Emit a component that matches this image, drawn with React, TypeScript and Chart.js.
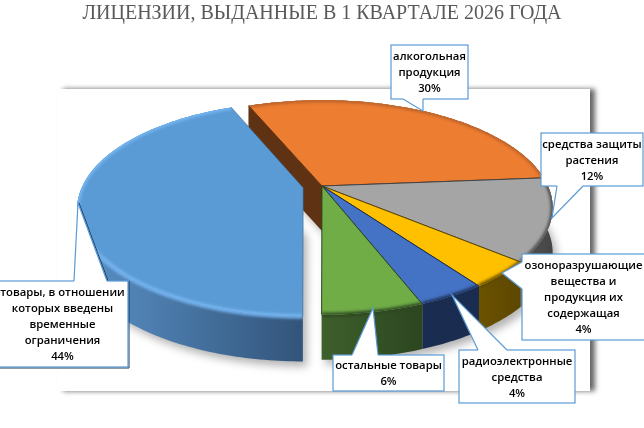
import React, { useEffect, useRef } from 'react';
import Chart from 'chart.js/auto';

const TITLE = 'ЛИЦЕНЗИИ, ВЫДАННЫЕ В 1 КВАРТАЛЕ 2026 ГОДА';

const categories = [
  'алкогольная продукция',
  'средства защиты растения',
  'озоноразрушающие вещества и продукция их содержащая',
  'радиоэлектронные средства',
  'остальные товары',
  'товары, в отношении которых введены временные ограничения',
];
const values = [30, 12.4, 4, 4, 5.9, 43.7];
const sliceOffsets = [0, 0, 0, 0, 0, 13];
const topColors = ['#ED7D31', '#A5A5A5', '#FFC000', '#4472C4', '#70AD47', '#5B9BD5'];
const sideLeft = ['#5F3213', '#5a5a5a', '#6b5200', '#1a2d50', '#3e602c', '#5a92c8'];
const sideRight = ['#5F3213', '#444444', '#5d4700', '#1a2d50', '#2c4620', '#32547a'];
const rimColors = ['#b8612a', '#4a4a4a', '#5d4700', '#1a2d50', '#2c4620', '#78b8f4'];

// wrapped label text, same order as categories
const labelLines = [
  ['алкогольная', 'продукция'],
  ['средства защиты', 'растения'],
  ['озоноразрушающие', 'вещества и', 'продукция их', 'содержащая'],
  ['радиоэлектронные', 'средства'],
  ['остальные товары'],
  ['товары, в отношении', 'которых введены', 'временные', 'ограничения'],
];
// callout boxes: x, y, w, h, then the wedge as base point, tip, base point
const callouts = [
  { box: [391, 45, 77, 54], wedge: [[403, 99], [423, 111], [423, 99]] },
  { box: [541, 133, 102, 53], wedge: [[557, 186], [552, 218], [583, 186]] },
  { box: [522, 254, 123, 86], wedge: [[522, 262], [502, 273], [522, 289]] },
  { box: [459, 350, 116, 53], wedge: [[478, 350], [452, 295], [507, 350]] },
  { box: [333, 355, 111, 36], wedge: [[352, 355], [373, 308], [378, 355]] },
  { box: [-3, 281, 131, 86], wedge: [[74, 281], [78, 203], [107, 281]], dark: true },
];

const RX = 226;
const RY = 103;
const PERSPECTIVE = 0.2;
const DEPTH = 45;

const pie3d = {
  id: 'pie3d',
  beforeDraw(chart: any) {
    const { ctx } = chart;
    ctx.save();
    ctx.fillStyle = '#ffffff';
    ctx.fillRect(0, 0, 644, 428);
    ctx.shadowColor = 'rgba(0,0,0,0.6)';
    ctx.shadowOffsetX = 5;
    ctx.shadowBlur = 5;
    ctx.fillRect(58, 89, 532, 302);
    ctx.restore();
  },
  beforeDatasetsDraw(chart: any) {
    const { ctx } = chart;
    const arcs = chart.getDatasetMeta(0).data;

    const slices = arcs.map((arc: any, i: number) => {
      const { x, y, startAngle, endAngle, outerRadius } = arc.getProps(['x', 'y', 'startAngle', 'endAngle', 'outerRadius']);
      const mid = (startAngle + endAngle) / 2;
      const e = (arc.options.offset || 0) / outerRadius;
      // the pulled-out slice looks a bit narrower in the original
      const rx = e ? RX * 0.98 : RX;
      const shiftX = RX * e * Math.cos(mid);
      const shiftY = RY * e * Math.sin(mid);
      const project = (r: number, a: number) => {
        const u = r * Math.cos(a);
        const v = r * Math.sin(a);
        const w = 1 - PERSPECTIVE * v;
        return [x + shiftX + (rx * u) / w, y + shiftY + (RY * v) / w];
      };
      const rim: number[][] = [];
      const steps = Math.ceil(((endAngle - startAngle) * 180) / Math.PI);
      for (let s = 0; s <= steps; s++) {
        rim.push(project(1, startAngle + ((endAngle - startAngle) * s) / steps));
      }
      return { i, rim, apex: project(0, 0), color: arc.options.backgroundColor };
    });

    const trace = (pts: number[][], dy = 0, dx = 0) => {
      pts.forEach((p, n) => (n ? ctx.lineTo(p[0] + dx, p[1] + dy) : ctx.moveTo(p[0] + dx, p[1] + dy)));
    };

    ctx.save();

    // soft drop shadow under the whole solid
    ctx.filter = 'blur(4px)';
    ctx.fillStyle = 'rgba(0,0,0,0.3)';
    slices.forEach((s: any) => {
      ctx.beginPath();
      trace([s.apex, ...s.rim], DEPTH + 5, 4);
      ctx.closePath();
      ctx.fill();
    });
    ctx.filter = 'none';

    // the cut wall of the first slice, seen through the gap
    const first = slices[0];
    ctx.fillStyle = sideLeft[0];
    ctx.beginPath();
    trace([first.rim[0], first.apex]);
    ctx.lineTo(first.apex[0], first.apex[1] + DEPTH);
    ctx.lineTo(first.rim[0][0], first.rim[0][1] + DEPTH);
    ctx.closePath();
    ctx.fill();

    // outer sides
    slices.forEach((s: any) => {
      const xs = s.rim.map((p: number[]) => p[0]);
      const grad = ctx.createLinearGradient(Math.min(...xs), 0, Math.max(...xs), 0);
      grad.addColorStop(0, sideLeft[s.i]);
      grad.addColorStop(1, sideRight[s.i]);
      ctx.fillStyle = grad;
      ctx.beginPath();
      trace([...s.rim, ...[...s.rim].reverse().map((p: number[]) => [p[0], p[1] + DEPTH])]);
      ctx.closePath();
      ctx.fill();

      ctx.save();
      ctx.clip();
      ctx.filter = 'blur(1.5px)';
      ctx.strokeStyle = rimColors[s.i];
      ctx.lineWidth = 4;
      ctx.beginPath();
      trace(s.rim);
      ctx.stroke();
      ctx.restore();
    });

    // top faces with a blurred bevel along the rim
    slices.forEach((s: any) => {
      ctx.fillStyle = s.color;
      ctx.beginPath();
      trace([s.apex, ...s.rim]);
      ctx.closePath();
      ctx.fill();

      ctx.save();
      ctx.clip();
      ctx.filter = 'blur(1.5px)';
      ctx.strokeStyle = rimColors[s.i];
      ctx.lineWidth = 4;
      ctx.beginPath();
      trace(s.rim);
      ctx.stroke();
      ctx.restore();

      ctx.strokeStyle = sideRight[s.i];
      ctx.lineWidth = s.i === 5 ? 0.5 : 1;
      ctx.beginPath();
      trace([s.rim[0], s.apex, s.rim[s.rim.length - 1]]);
      ctx.stroke();
    });

    ctx.restore();
    return false;
  },
  afterDraw(chart: any) {
    const { ctx } = chart;
    ctx.save();
    ctx.font = '600 11.3px "Open Sans"';
    ctx.textAlign = 'center';
    ctx.textBaseline = 'middle';
    callouts.forEach((c, i) => {
      const [x, y, w, h] = c.box;
      const [a, tip, b] = c.wedge;

      // this label sits on the dark side of the pie and has a dark edge
      if (c.dark) {
        ctx.strokeStyle = '#1f3553';
        ctx.lineWidth = 1;
        ctx.beginPath();
        ctx.moveTo(tip[0] + 1, tip[1]);
        ctx.lineTo(b[0] + 1, b[1]);
        ctx.moveTo(x + w + 1, y);
        ctx.lineTo(x + w + 1, y + h + 1);
        ctx.lineTo(x, y + h + 1);
        ctx.stroke();
      }

      ctx.fillStyle = '#ffffff';
      ctx.strokeStyle = '#5B9BD5';
      ctx.lineWidth = 1.2;
      ctx.fillRect(x, y, w, h);
      ctx.strokeRect(x, y, w, h);

      ctx.beginPath();
      ctx.moveTo(a[0], a[1]);
      ctx.lineTo(tip[0], tip[1]);
      ctx.lineTo(b[0], b[1]);
      ctx.closePath();
      ctx.fill();

      // open the box border where the wedge joins it
      ctx.strokeStyle = '#ffffff';
      ctx.lineWidth = 2;
      ctx.beginPath();
      ctx.moveTo(a[0], a[1]);
      ctx.lineTo(b[0], b[1]);
      ctx.stroke();

      ctx.strokeStyle = '#5B9BD5';
      ctx.lineWidth = 1.2;
      ctx.beginPath();
      ctx.moveTo(a[0], a[1]);
      ctx.lineTo(tip[0], tip[1]);
      ctx.lineTo(b[0], b[1]);
      ctx.stroke();

      const lines = [...labelLines[i], `${Math.round(values[i])}%`];
      const top = y + h / 2 - ((lines.length - 1) * 16) / 2 + 1;
      ctx.fillStyle = '#000000';
      lines.forEach((line, n) => ctx.fillText(line, x + w / 2, top + n * 16));
    });
    ctx.restore();
  },
};

const App: React.FC = () => {
  const chartRef = useRef<HTMLCanvasElement>(null);

  useEffect(() => {
    document.body.style.margin = '0';
    if (!chartRef.current) return;
    const chart = new Chart(chartRef.current, {
      type: 'pie',
      data: {
        labels: categories,
        datasets: [{
          data: values,
          backgroundColor: topColors,
          offset: sliceOffsets,
          borderWidth: 0,
        }],
      },
      options: {
        responsive: false,
        animation: false,
        devicePixelRatio: 1,
        rotation: -22.6,
        layout: { padding: { bottom: 82 } },
        plugins: {
          legend: { display: false },
          tooltip: { enabled: false },
          title: {
            display: true,
            text: TITLE,
            color: '#595959',
            font: { family: '"Liberation Serif"', size: 20, weight: 'normal', lineHeight: 1.2 },
            padding: { top: 2, bottom: 0 },
          },
        },
      },
      plugins: [pie3d],
    } as any);

    return () => {
      chart.destroy();
    };
  }, []);

  return <canvas ref={chartRef} width={644} height={428} style={{ display: 'block' }} />;
};

export default App;
